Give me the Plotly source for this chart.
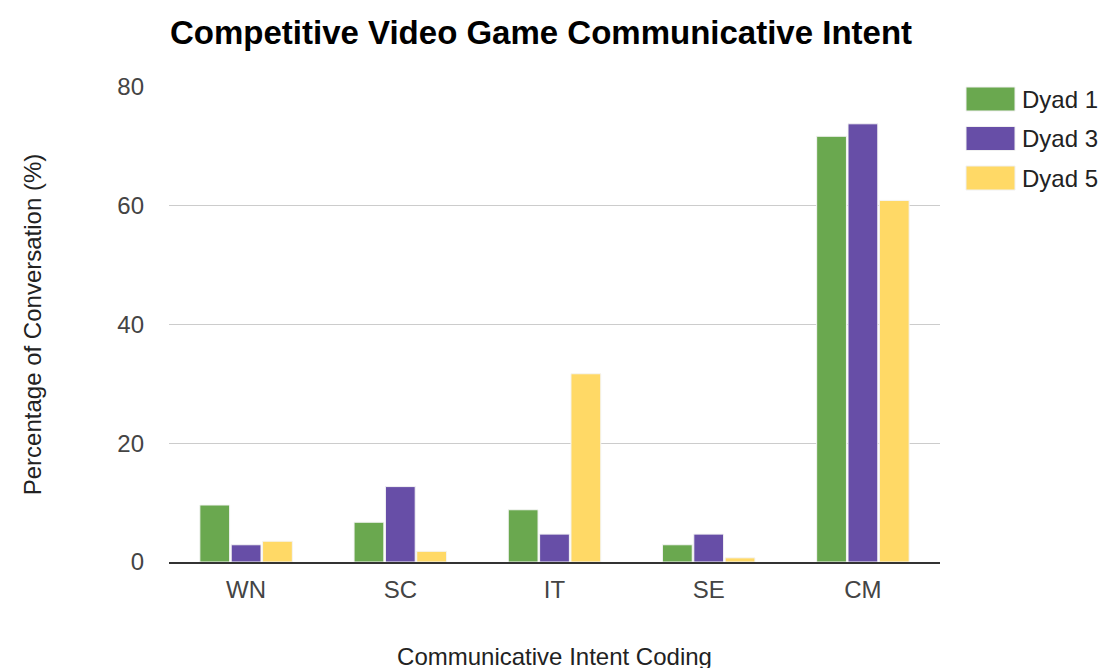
import plotly.graph_objects as go

categories = ["WN", "SC", "IT", "SE", "CM"]
dyad1 = [9.6, 6.7, 8.8, 2.9, 71.7]
dyad3 = [2.9, 12.7, 4.7, 4.7, 73.8]
dyad5 = [3.5, 1.8, 31.7, 0.7, 60.9]
series_names = ["Dyad 1", "Dyad 3", "Dyad 5"]
colors = ["#6aa84f", "#674ea7", "#ffd966"]

OFF = 8  # page offset of the figure in the browser
W, H = 1107, 668
L, T = 169 - OFF, 87 - OFF
pw, ph = 771, 475
R, B = W - L - pw, H - T - ph


def px(x):
    return (x - OFF - L) / pw


def py(y):
    return (T + ph - (y - OFF)) / ph


fig = go.Figure()
for name, vals, c in zip(series_names, [dyad1, dyad3, dyad5], colors):
    fig.add_trace(go.Bar(x=categories, y=vals, name=name, showlegend=False,
                         marker=dict(color=c, line=dict(color="#f4f4f4", width=1))))

font = "Liberation Sans, Arial, sans-serif"

# custom legend with large swatches (like the reference)
shapes = []
annotations = []
for i, (name, c) in enumerate(zip(series_names, colors)):
    top = 87 + i * 39.5
    shapes.append(dict(type="rect", xref="paper", yref="paper",
                       x0=px(966), x1=px(1015), y0=py(top), y1=py(top + 24),
                       fillcolor=c, line=dict(color="#f0f0f0", width=1)))
    annotations.append(dict(text=name, xref="paper", yref="paper",
                            x=px(1020), y=py(top + 12), xanchor="left", yanchor="middle",
                            showarrow=False, font=dict(size=24, color="#222")))

fig.update_layout(
    width=W, height=H,
    plot_bgcolor="white", paper_bgcolor="white",
    margin=dict(l=L, r=R, t=T, b=B, autoexpand=False),
    barmode="group", bargap=0.39, bargroupgap=0.05,
    font=dict(family=font, size=25, color="#444"),
    showlegend=False,
    shapes=shapes, annotations=annotations,
    title=dict(text="<b>Competitive Video Game Communicative Intent</b>",
               x=(170 - OFF) / W, xanchor="left", y=1 - (32 - OFF) / H, yanchor="middle",
               font=dict(family=font, size=33, color="#000")),
    xaxis=dict(title=dict(text="Communicative Intent Coding", standoff=46,
                          font=dict(size=24, color="#222")),
               tickfont=dict(size=24, color="#444"), ticks="", showgrid=False,
               automargin=False,
               showline=True, linecolor="#333", linewidth=2, ticklabelstandoff=5),
    yaxis=dict(title=dict(text="Percentage of Conversation (%)", standoff=68,
                          font=dict(size=24, color="#222")),
               range=[0, 80], dtick=20, tickfont=dict(size=24, color="#444"),
               automargin=False,
               gridcolor="#cccccc", gridwidth=1, zeroline=False,
               ticklabelstandoff=24),
)
fig.write_html("out.html")
